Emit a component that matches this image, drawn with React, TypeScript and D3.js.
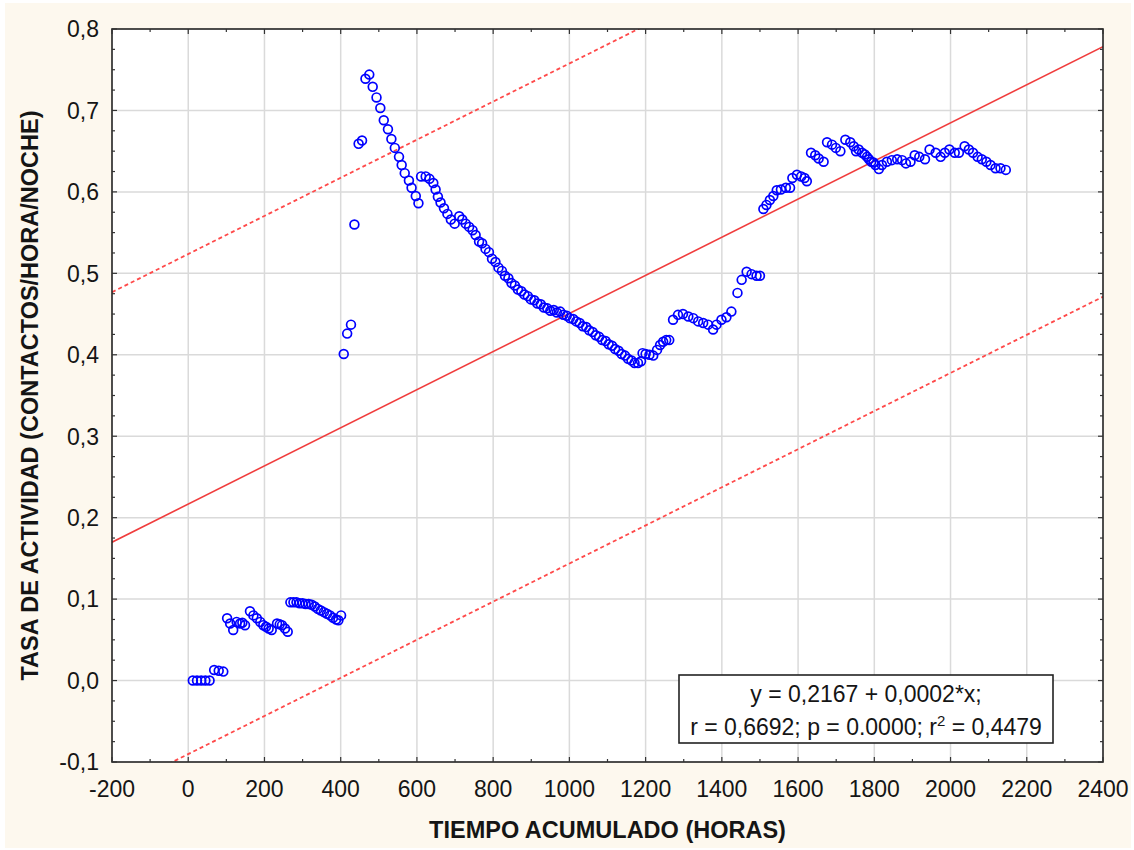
import React from "react";
import * as d3 from "d3";

// Accumulated hours of observation and the activity rate measured at each point
const tiempo = [
  12, 23, 34, 45, 56, 68, 80, 92,
  102, 110, 118, 127, 136, 142, 149, 162, 171, 180, 189, 197, 204, 211, 219, 233, 240, 246, 254, 261,
  268, 276, 284, 292, 300, 308, 316, 324, 332, 340, 348, 356, 364, 372, 380, 388, 394, 401,
  408, 417, 427, 436, 447, 456, 465, 475, 484, 494, 504, 513, 524, 533, 542, 553, 560, 568, 579, 586, 597, 604,
  611, 623, 633, 643, 649, 655, 662, 671, 680, 689, 699, 711, 719, 728, 737, 746, 754, 763,
  771, 780, 789, 797, 806, 814, 823, 831, 840, 848, 857, 865, 874, 882, 891, 899, 908, 916, 925, 933,
  942, 950, 959, 967, 976, 984, 993, 1001, 1010, 1018, 1027, 1035, 1044, 1052, 1061, 1069, 1078, 1086,
  1095, 1103, 1112, 1120, 1129, 1137, 1146, 1154, 1163, 1171, 1180, 1188,
  1192, 1200, 1210, 1220, 1230, 1238, 1246, 1254, 1262,
  1272, 1285, 1298, 1312, 1325, 1338, 1351, 1364, 1377, 1386, 1399, 1412, 1425, 1441, 1452, 1465, 1478, 1491, 1500,
  1509, 1517, 1526, 1535, 1544, 1555, 1568, 1579, 1585, 1597, 1608, 1617, 1623,
  1634, 1645, 1654, 1667, 1676, 1689, 1699, 1711, 1724, 1737, 1746, 1752, 1759, 1768, 1775, 1781, 1786, 1792, 1798, 1803, 1812,
  1820, 1833, 1846, 1860, 1873, 1883, 1895, 1906, 1918, 1933, 1945, 1961, 1974, 1985, 1997, 2011, 2022,
  2037, 2048, 2059, 2071, 2082, 2094, 2105, 2118, 2131, 2145,
];

const tasa = [
  0.0, 0.0, 0.0, 0.0, 0.0, 0.013, 0.012, 0.011,
  0.0765, 0.07, 0.062, 0.072, 0.07, 0.071, 0.068, 0.085, 0.08, 0.0765, 0.072, 0.068, 0.066, 0.064, 0.062, 0.07, 0.069, 0.068, 0.064, 0.06,
  0.096, 0.096, 0.096, 0.095, 0.095, 0.094, 0.094, 0.093, 0.091, 0.088, 0.086, 0.084, 0.082, 0.08, 0.077, 0.075, 0.074, 0.08,
  0.401, 0.426, 0.437, 0.56, 0.659, 0.663, 0.739, 0.744, 0.729, 0.716, 0.703, 0.688, 0.677, 0.665, 0.654, 0.643, 0.633, 0.623, 0.614, 0.605, 0.595, 0.586,
  0.619, 0.619, 0.616, 0.611, 0.603, 0.594, 0.587, 0.58, 0.573, 0.566, 0.561, 0.57, 0.566, 0.561, 0.557, 0.553, 0.547, 0.539,
  0.537, 0.53, 0.526, 0.518, 0.514, 0.507, 0.503, 0.497, 0.494, 0.488, 0.485, 0.48, 0.478, 0.474, 0.472, 0.468, 0.467, 0.463, 0.462, 0.458,
  0.457, 0.454, 0.455, 0.452, 0.453, 0.449, 0.448, 0.445, 0.444, 0.441, 0.439, 0.435, 0.434, 0.43, 0.428, 0.424, 0.422, 0.418,
  0.417, 0.413, 0.411, 0.407, 0.405, 0.401, 0.399, 0.395, 0.393, 0.39, 0.39, 0.392,
  0.402, 0.401, 0.4, 0.399, 0.406, 0.412, 0.416, 0.418, 0.418,
  0.443, 0.449, 0.45, 0.447, 0.445, 0.441, 0.439, 0.437, 0.431, 0.437, 0.443, 0.446, 0.453, 0.476, 0.492, 0.502, 0.499, 0.497, 0.497,
  0.579, 0.584, 0.59, 0.595, 0.602, 0.603, 0.605, 0.605, 0.617, 0.621, 0.619, 0.617, 0.613,
  0.648, 0.645, 0.641, 0.637, 0.661, 0.658, 0.654, 0.65, 0.664, 0.661, 0.656, 0.65, 0.652, 0.648, 0.646, 0.643, 0.64, 0.637, 0.636, 0.633, 0.628,
  0.633, 0.637, 0.639, 0.64, 0.639, 0.635, 0.637, 0.645, 0.643, 0.64, 0.652, 0.648, 0.643, 0.648, 0.652, 0.648, 0.648,
  0.656, 0.652, 0.648, 0.643, 0.64, 0.637, 0.633, 0.629, 0.629, 0.627,
];

const xTicks = [-200, 0, 200, 400, 600, 800, 1000, 1200, 1400, 1600, 1800, 2000, 2200, 2400];
const yTicks = [-0.1, 0.0, 0.1, 0.2, 0.3, 0.4, 0.5, 0.6, 0.7, 0.8];

// Fitted line y = a + b*x and the half-width of its dashed band
const intercept = 0.2167;
const slope = 0.000234;
const bandHalf = 0.307;

const eqLine1 = "y = 0,2167 + 0,0002*x;";
const eqLine2a = "r = 0,6692; p = 0.0000; r";
const eqLine2b = " = 0,4479";

const xTitle = "TIEMPO ACUMULADO (HORAS)";
const yTitle = "TASA DE ACTIVIDAD (CONTACTOS/HORA/NOCHE)";

const FONT = "'Liberation Sans', Arial, Helvetica, sans-serif";
const TEXT = "#151515";

export default function App() {
  const W = 1134;
  const H = 850;
  const L = 112, R = 1103, T = 29, B = 762;

  const x = d3.scaleLinear().domain([-200, 2400]).range([L, R]);
  const y = d3.scaleLinear().domain([-0.1, 0.8]).range([B, T]);

  const fmtY = (v: number) => d3.format(".1f")(v).replace("−", "-").replace(".", ",");

  const [x0, x1] = x.domain();
  const fit = (xv: number, off: number) => intercept + slope * xv + off;

  const xMinor = d3.range(-200, 2401, 100);
  const yMinor = d3.range(0, 37).map((i) => -0.1 + i * 0.025);

  const pts = tiempo.map((t, i) => [t, tasa[i]] as [number, number]);

  return (
    <svg
      width={W}
      height={H}
      style={{ position: "absolute", left: 0, top: 0, display: "block" }}
      fontFamily={FONT}
    >
      <rect x={0} y={0} width={W} height={H} fill="#ffffff" />
      <rect x={5} y={3} width={1126} height={845} fill="#fdf8ee" />
      <defs>
        <clipPath id="plotClip">
          <rect x={L} y={T} width={R - L} height={B - T} />
        </clipPath>
      </defs>
      <rect x={L} y={T} width={R - L} height={B - T} fill="#ffffff" />

      {/* grid */}
      <g stroke="#dadada" strokeWidth={1.5}>
        {xTicks.slice(1, -1).map((v) => (
          <line key={"gx" + v} x1={x(v)} x2={x(v)} y1={T} y2={B} />
        ))}
        {yTicks.slice(1, -1).map((v) => (
          <line key={"gy" + v} x1={L} x2={R} y1={y(v)} y2={y(v)} />
        ))}
      </g>

      {/* regression line and its band */}
      <g clipPath="url(#plotClip)" fill="none">
        <line
          x1={x(x0)} y1={y(fit(x0, 0))} x2={x(x1)} y2={y(fit(x1, 0))}
          stroke="#f03c3c" strokeWidth={1.6}
        />
        <line
          x1={x(x0)} y1={y(fit(x0, bandHalf))} x2={x(x1)} y2={y(fit(x1, bandHalf))}
          stroke="#ff4a4a" strokeWidth={1.8} strokeDasharray="4 3"
        />
        <line
          x1={x(x0)} y1={y(fit(x0, -bandHalf))} x2={x(x1)} y2={y(fit(x1, -bandHalf))}
          stroke="#ff4a4a" strokeWidth={1.8} strokeDasharray="4 3"
        />
      </g>

      {/* observations */}
      <g fill="none" stroke="#0000ff" strokeWidth={1.7}>
        {pts.map(([t, v], i) => (
          <circle key={i} cx={x(t)} cy={y(v)} r={4.4} />
        ))}
      </g>

      {/* frame and ticks */}
      <rect x={L} y={T} width={R - L} height={B - T} fill="none" stroke="#222" strokeWidth={1.6} />
      <g stroke="#333" strokeWidth={1.2}>
        {xMinor.map((v) => {
          const len = v % 200 === 0 ? 5 : 3;
          return (
            <g key={"tx" + v}>
              <line x1={x(v)} x2={x(v)} y1={B} y2={B - len} />
              <line x1={x(v)} x2={x(v)} y1={T} y2={T + len} />
            </g>
          );
        })}
        {yMinor.map((v, i) => {
          const len = i % 4 === 0 ? 5 : 3;
          return (
            <g key={"ty" + i}>
              <line x1={L} x2={L + len} y1={y(v)} y2={y(v)} />
              <line x1={R} x2={R - len} y1={y(v)} y2={y(v)} />
            </g>
          );
        })}
      </g>

      {/* tick labels */}
      <g fill={TEXT} fontSize={23}>
        {yTicks.map((v) => (
          <text key={"ly" + v} x={L - 13} y={y(v)} dy="0.36em" textAnchor="end">
            {fmtY(v)}
          </text>
        ))}
        {xTicks.map((v) => (
          <text key={"lx" + v} x={x(v)} y={797} textAnchor="middle">
            {String(v)}
          </text>
        ))}
      </g>

      {/* axis titles */}
      <text x={(L + R) / 2} y={838} textAnchor="middle" fontSize={23.5} fontWeight="bold" fill={TEXT}>
        {xTitle}
      </text>
      <text
        transform={`translate(38, ${(T + B) / 2}) rotate(-90)`}
        textAnchor="middle"
        fontSize={23.5}
        fontWeight="bold"
        fill={TEXT}
      >
        {yTitle}
      </text>

      {/* equation box */}
      <rect x={679} y={675} width={374} height={68} fill="#ffffff" stroke="#222" strokeWidth={1.6} />
      <g fill={TEXT} fontSize={23} textAnchor="middle">
        <text x={866} y={702}>{eqLine1}</text>
        <text x={866} y={735}>
          {eqLine2a}
          <tspan fontSize={15} dy={-9}>2</tspan>
          <tspan dy={9}>{eqLine2b}</tspan>
        </text>
      </g>
    </svg>
  );
}
